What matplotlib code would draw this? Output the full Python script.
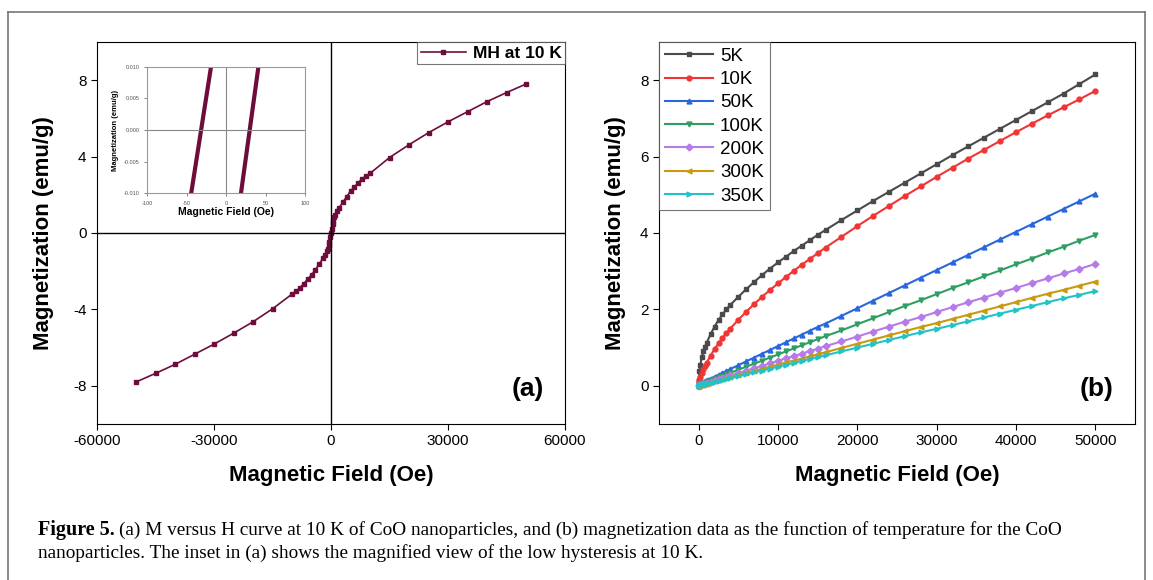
import numpy as np
import matplotlib.pyplot as plt
from matplotlib.lines import Line2D

plt.rcParams['font.family'] = ['Liberation Sans', 'DejaVu Sans']
plt.rcParams['axes.unicode_minus'] = False

# ---- (a) MH loop at 10 K ----
h_a = [-50000, -45000, -40000, -35000, -30000, -25000, -20000, -15000, -10000,
       -9000, -8000, -7000, -6000, -5000, -4000, -3000, -2000, -1500, -1000,
       -800, -600, -400, -200, 0, 200, 400, 600, 800, 1000, 1500, 2000, 3000,
       4000, 5000, 6000, 7000, 8000, 9000, 10000, 15000, 20000, 25000, 30000,
       35000, 40000, 45000, 50000]
m_a = [-7.8, -7.35, -6.88, -6.35, -5.82, -5.25, -4.65, -3.97, -3.2,
       -3.05, -2.88, -2.65, -2.42, -2.2, -1.92, -1.62, -1.3, -1.15, -0.95,
       -0.82, -0.65, -0.45, -0.22, 0.0, 0.22, 0.45, 0.65, 0.82, 0.95, 1.15, 1.3, 1.6,
       1.9, 2.2, 2.42, 2.62, 2.85, 2.98, 3.12, 3.95, 4.62, 5.25, 5.82,
       6.35, 6.88, 7.35, 7.8]

# inset: low field hysteresis
h_in_left = [-44, -19]
m_in_left = [-0.010, 0.010]
h_in_right = [19, 41]
m_in_right = [-0.010, 0.010]

# ---- (b) M(H) at different temperatures ----
h_b = [0, 100, 200, 400, 600, 800, 1000, 1500, 2000, 2500, 3000, 3500, 4000,
       5000, 6000, 7000, 8000, 9000, 10000, 11000, 12000, 13000, 14000, 15000, 16000,
       18000, 20000, 22000, 24000, 26000, 28000, 30000, 32000, 34000, 36000, 38000,
       40000, 42000, 44000, 46000, 48000, 50000]
m_5K = [0.15, 0.4, 0.55, 0.75, 0.9, 1.02, 1.12, 1.35, 1.55, 1.72, 1.87, 2.0, 2.12,
        2.33, 2.53, 2.72, 2.9, 3.07, 3.23, 3.38, 3.53, 3.67, 3.81, 3.95, 4.08,
        4.34, 4.59, 4.84, 5.08, 5.32, 5.56, 5.8, 6.04, 6.27, 6.5, 6.73,
        6.96, 7.19, 7.42, 7.65, 7.9, 8.15]
m_10K = [0.1, 0.16, 0.22, 0.33, 0.43, 0.52, 0.6, 0.79, 0.96, 1.11, 1.25, 1.38, 1.5,
         1.73, 1.94, 2.14, 2.33, 2.51, 2.68, 2.85, 3.01, 3.17, 3.32, 3.47, 3.62,
         3.9, 4.18, 4.45, 4.71, 4.97, 5.22, 5.47, 5.71, 5.95, 6.18, 6.41,
         6.64, 6.86, 7.08, 7.29, 7.5, 7.72]
m_50K = [0.0, 0.03, 0.05, 0.08, 0.1, 0.12, 0.14, 0.19, 0.24, 0.29, 0.34, 0.39, 0.44,
         0.54, 0.64, 0.74, 0.84, 0.94, 1.04, 1.14, 1.24, 1.34, 1.44, 1.54, 1.63,
         1.83, 2.03, 2.23, 2.43, 2.63, 2.83, 3.03, 3.23, 3.43, 3.63, 3.83,
         4.03, 4.23, 4.43, 4.63, 4.83, 5.03]
m_100K = [0.0, 0.02, 0.03, 0.05, 0.07, 0.08, 0.1, 0.14, 0.18, 0.22, 0.26, 0.3, 0.34,
          0.42, 0.5, 0.58, 0.66, 0.74, 0.82, 0.9, 0.98, 1.06, 1.14, 1.22, 1.3,
          1.45, 1.61, 1.77, 1.93, 2.09, 2.24, 2.4, 2.56, 2.71, 2.87, 3.02,
          3.18, 3.33, 3.49, 3.64, 3.8, 3.95]
m_200K = [0.0, 0.01, 0.02, 0.04, 0.05, 0.06, 0.08, 0.11, 0.14, 0.17, 0.2, 0.24, 0.27,
          0.33, 0.4, 0.46, 0.52, 0.59, 0.65, 0.72, 0.78, 0.84, 0.91, 0.97, 1.04,
          1.16, 1.29, 1.42, 1.55, 1.68, 1.8, 1.93, 2.06, 2.19, 2.31, 2.44,
          2.56, 2.69, 2.81, 2.94, 3.06, 3.19]
m_300K = [0.0, 0.01, 0.02, 0.03, 0.04, 0.05, 0.06, 0.09, 0.12, 0.15, 0.17, 0.2, 0.23,
          0.28, 0.34, 0.39, 0.44, 0.5, 0.55, 0.61, 0.66, 0.71, 0.77, 0.82, 0.88,
          0.99, 1.1, 1.21, 1.32, 1.43, 1.54, 1.64, 1.75, 1.86, 1.97, 2.08,
          2.19, 2.3, 2.41, 2.51, 2.62, 2.73]
m_350K = [0.0, 0.01, 0.02, 0.03, 0.04, 0.04, 0.05, 0.08, 0.1, 0.13, 0.15, 0.18, 0.2,
          0.25, 0.3, 0.35, 0.4, 0.45, 0.5, 0.55, 0.6, 0.65, 0.7, 0.75, 0.8,
          0.9, 1.0, 1.1, 1.2, 1.3, 1.4, 1.49, 1.59, 1.69, 1.79, 1.89,
          1.99, 2.09, 2.19, 2.29, 2.38, 2.48]
temps = ['5K', '10K', '50K', '100K', '200K', '300K', '350K']
series_b = [m_5K, m_10K, m_50K, m_100K, m_200K, m_300K, m_350K]
cores = ['#4a4a4a', '#f03535', '#2a66dc', '#2e9e62', '#b57be8', '#c9990f', '#22c3c8']
marcadores = ['s', 'o', '^', 'v', 'D', '<', '>']

maroon = '#6e0d3c'

fig = plt.figure(figsize=(11.53, 5.8), dpi=100)

# moldura da figura
cinza = '#777777'
fig.add_artist(Line2D([8/1153, 8/1153], [0, 1-12/580], transform=fig.transFigure, color=cinza, lw=1.2))
fig.add_artist(Line2D([8/1153, 1145/1153], [1-12/580, 1-12/580], transform=fig.transFigure, color=cinza, lw=1.2))
fig.add_artist(Line2D([1145/1153, 1145/1153], [0, 1-12/580], transform=fig.transFigure, color=cinza, lw=1.2))

#%% (a)
ax1 = fig.add_axes([97/1153, 156/580, 468/1153, 382/580])
ax1.plot(h_a, m_a, '-s', color=maroon, ms=3.5, lw=1.2, label='MH at 10 K')
ax1.axhline(0, color='k', lw=1.0)
ax1.axvline(0, color='k', lw=1.0)
ax1.set_xlim(-60000, 60000)
ax1.set_ylim(-10, 10)
ax1.set_xticks([-60000, -30000, 0, 30000, 60000])
ax1.set_yticks([-8, -4, 0, 4, 8])
ax1.tick_params(labelsize=11, direction='out', length=4)
ax1.set_xlabel('Magnetic Field (Oe)', fontsize=16, fontweight='bold', labelpad=12)
ax1.set_ylabel('Magnetization (emu/g)', fontsize=16, fontweight='bold', labelpad=14)
leg1 = ax1.legend(loc='upper right', prop={'weight': 'bold', 'size': 12.5},
                  fancybox=False, edgecolor='#555555', borderpad=0.2, handlelength=2.6,
                  borderaxespad=0.0, handletextpad=0.4)
leg1.get_frame().set_linewidth(0.8)
ax1.text(0.955, 0.06, '(a)', transform=ax1.transAxes, fontsize=19, fontweight='bold',
         ha='right', va='bottom')

# inset
axi = fig.add_axes([147/1153, 387/580, 158/1153, 126/580])
axi.plot(h_in_left, m_in_left, color=maroon, lw=3)
axi.plot(h_in_right, m_in_right, color=maroon, lw=3)
axi.axhline(0, color='#888888', lw=0.8)
axi.axvline(0, color='#888888', lw=0.8)
axi.set_xlim(-100, 100)
axi.set_ylim(-0.010, 0.010)
axi.set_xticks([-100, -50, 0, 50, 100])
axi.set_yticks([-0.010, -0.005, 0.0, 0.005, 0.010])
axi.set_yticklabels(['-0.010', '-0.005', '0.000', '0.005', '0.010'])
axi.tick_params(labelsize=4, length=2, width=0.5, colors='#555555')
for s in axi.spines.values():
    s.set_color('#999999')
    s.set_linewidth(0.8)
axi.set_xlabel('Magnetic Field (Oe)', fontsize=7.5, fontweight='bold', labelpad=1)
axi.set_ylabel('Magnetization (emu/g)', fontsize=5.5, fontweight='bold', labelpad=3)

#%% (b)
ax2 = fig.add_axes([659/1153, 156/580, 476/1153, 382/580])
for m, lab, c, mk in zip(series_b, temps, cores, marcadores):
    ax2.plot(h_b, m, '-', marker=mk, color=c, ms=3.5, lw=1.5, label=lab)
ax2.set_xlim(-5000, 55000)
ax2.set_ylim(-1, 9)
ax2.set_xticks([0, 10000, 20000, 30000, 40000, 50000])
ax2.set_yticks([0, 2, 4, 6, 8])
ax2.tick_params(labelsize=11, direction='out', length=4)
ax2.set_xlabel('Magnetic Field (Oe)', fontsize=16, fontweight='bold', labelpad=12)
ax2.set_ylabel('Magnetization (emu/g)', fontsize=16, fontweight='bold', labelpad=10)
leg2 = ax2.legend(loc='upper left', fontsize=13.5, fancybox=False, edgecolor='#555555',
                  borderpad=0.3, handlelength=2.6, borderaxespad=0.0,
                  labelspacing=0.33, handletextpad=0.35)
leg2.get_frame().set_linewidth(0.8)
ax2.text(0.955, 0.06, '(b)', transform=ax2.transAxes, fontsize=19, fontweight='bold',
         ha='right', va='bottom')

# legenda da figura
fs_cap = 14.5
t1 = fig.text(38/1153, 1-530/580, 'Figure 5.', fontsize=fs_cap, fontweight='bold',
              family='Liberation Serif', va='center')
fig.canvas.draw()
bb = t1.get_window_extent(renderer=fig.canvas.get_renderer())
x_next = (bb.x1 + 4) / fig.bbox.width
fig.text(x_next, 1-530/580,
         '(a) M versus H curve at 10 K of CoO nanoparticles, and (b) magnetization data as the function of temperature for the CoO',
         fontsize=fs_cap - 0.6, family='Liberation Serif', va='center')
fig.text(38/1153, 1-553/580,
         'nanoparticles. The inset in (a) shows the magnified view of the low hysteresis at 10 K.',
         fontsize=fs_cap - 0.6, family='Liberation Serif', va='center')

plt.savefig('out.png', dpi=100)
